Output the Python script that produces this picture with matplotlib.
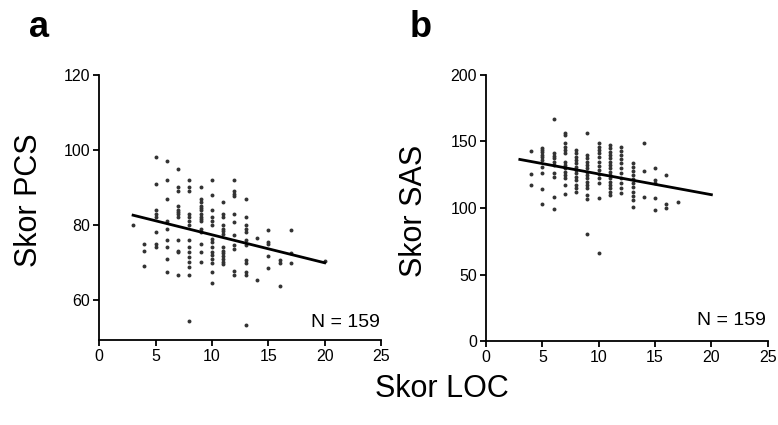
import matplotlib
matplotlib.use("Agg")
import matplotlib.pyplot as plt
import numpy as np

plt.rcParams['font.family'] = ['Liberation Sans', 'DejaVu Sans']

# ---------------- data ----------------
# Panel a: LOC score (x) vs PCS score (y), grouped by LOC value
loc_levels_a = [3, 4, 5, 6, 7, 8, 9, 10, 11, 12, 13, 14, 15, 16, 17, 20]
pcs_by_level = [
    [80],
    [75, 73, 69],
    [98, 91, 84, 83, 82, 78, 75, 74],
    [97, 92, 87, 81, 79, 76, 74, 71, 67.5],
    [95, 90, 89, 85, 84, 83.5, 83, 82, 76, 73, 72.7, 66.7],
    [92, 90, 89, 83, 82, 81, 80, 76, 74, 72.7, 71.5, 70, 68.7, 66.7, 54.4],
    [90, 87, 86, 85, 84.5, 84, 83, 82, 81.5, 81, 79, 78, 75, 72.7, 70],
    [92, 88, 84, 82, 81, 80, 76.3, 75.4, 74, 72.7, 72, 71, 69.8, 67.5, 64.6],
    [86, 83, 82, 80, 79, 78.4, 77.5, 74, 73, 72.4, 71.6, 71, 70, 69.5],
    [92, 89, 88.2, 87.6, 83, 80.7, 77.3, 74.7, 73.5, 67.6, 66.7],
    [87, 82, 80, 79, 78, 76, 74.7, 70.7, 69.8, 67.5, 66.7, 53.3],
    [76.6, 65.4],
    [78.7, 75.5, 74.8, 71.7, 68.4],
    [70.7, 69.8, 63.7],
    [78.7, 72.5, 69.8],
    [70.4],
]
fit_x_a = [3, 20]
fit_y_a = [82.6, 69.9]

# Panel b: LOC score (x) vs SAS score (y), grouped by LOC value
loc_levels_b = [4, 5, 6, 7, 8, 9, 10, 11, 12, 13, 14, 15, 16, 17]
sas_by_level = [
    [143, 125.6, 117.6],
    [145.4, 143.6, 141.9, 139.9, 138.1, 136.1, 131.1, 126.6, 114.3, 103.3],
    [166.9, 141, 139.4, 137.4, 134.9, 132.4, 126.6, 123.1, 108.5, 99.2],
    [156.6, 154.9, 148.6, 146.1, 143.6, 141, 134.9, 132.4, 129.9, 127.4, 124.9, 122.4, 117.3, 110.5],
    [143.6, 141, 138.6, 136.1, 133.6, 131.1, 128.6, 126.1, 123.6, 121.1, 117.3, 114.8, 112.3],
    [156.1, 139.9, 137.4, 134.9, 132.4, 129.9, 127.4, 124.9, 122.4, 119.9, 117.3, 114.8, 109.8, 106.5, 80.5],
    [148.6, 146.1, 143.6, 141, 138.1, 134.9, 131.9, 128.6, 125.6, 122.4, 119.1, 107.5, 66.4],
    [147.3, 144.9, 142.4, 139.9, 137.4, 134.9, 132.4, 129.9, 127.4, 124.9, 122.4, 119.9, 117.3, 114.8, 112.3, 109.8],
    [146.1, 143.1, 139.9, 136.6, 133.6, 129.9, 126.1, 122.4, 118.6, 114.8, 111.0],
    [133.6, 131.1, 128.1, 124.9, 121.6, 118.6, 115.6, 112.3, 109.3, 106.0, 101.0],
    [148.6, 127.9, 108.5],
    [129.9, 121.1, 118.6, 107.5, 98.7],
    [124.9, 103.1, 99.7],
    [104.3],
]
fit_x_b = [3, 20]
fit_y_b = [136.5, 110.0]

x_ticks = [0, 5, 10, 15, 20, 25]
y_ticks_a = [60, 80, 100, 120]
y_ticks_b = [0, 50, 100, 150, 200]
n_label = "N = 159"


def expand(levels, groups):
    xs, ys = [], []
    for lv, g in zip(levels, groups):
        xs.extend([lv] * len(g))
        ys.extend(g)
    return xs, ys


loc_a, pcs = expand(loc_levels_a, pcs_by_level)
loc_b, sas = expand(loc_levels_b, sas_by_level)

# ---------------- figure ----------------
W, H = 778, 425
fig = plt.figure(figsize=(W / 100, H / 100), dpi=100)

ax_a = fig.add_axes([0.1276, 0.2, 0.3621, 0.6235])
ax_b = fig.add_axes([0.6247, 0.1976, 0.3621, 0.626])

dot_color = '#333333'


def style(ax, yticks, ylim):
    ax.set_xlim(0, 25)
    ax.set_ylim(*ylim)
    ax.set_xticks(x_ticks)
    ax.set_yticks(yticks)
    for s in ['top', 'right']:
        ax.spines[s].set_visible(False)
    for s in ['left', 'bottom']:
        ax.spines[s].set_linewidth(1.3)
    ax.tick_params(direction='out', length=4.5, width=1.3, labelsize=11.5, pad=2, colors='black')
    ax.patch.set_alpha(0)


ax_a.scatter(loc_a, pcs, s=8, color=dot_color, linewidths=0, zorder=3)
ax_a.plot(fit_x_a, fit_y_a, color='black', lw=2.0, zorder=4)
style(ax_a, y_ticks_a, (49.3, 120))
ax_a.text(0.995, 0.05, n_label, transform=ax_a.transAxes, ha='right', va='baseline', fontsize=14)

ax_b.scatter(loc_b, sas, s=8, color=dot_color, linewidths=0, zorder=3)
ax_b.plot(fit_x_b, fit_y_b, color='black', lw=2.0, zorder=4)
style(ax_b, y_ticks_b, (0, 200))
ax_b.text(0.995, 0.06, n_label, transform=ax_b.transAxes, ha='right', va='baseline', fontsize=14)

# axis titles
fig.text(29 / W, 1 - 200 / H, "Skor PCS", rotation=90, ha='center', va='center', fontsize=22)
fig.text(414 / W, 1 - 211 / H, "Skor SAS", rotation=90, ha='center', va='center', fontsize=22)
fig.text(442 / W, 1 - 397 / H, "Skor LOC", fontsize=22, ha='center', va='baseline')

# panel letters
fig.text(29 / W, 1 - 37 / H, "a", fontsize=26, fontweight='bold', ha='left', va='baseline')
fig.text(410 / W, 1 - 37 / H, "b", fontsize=26, fontweight='bold', ha='left', va='baseline')

fig.savefig("out.png", dpi=100)
